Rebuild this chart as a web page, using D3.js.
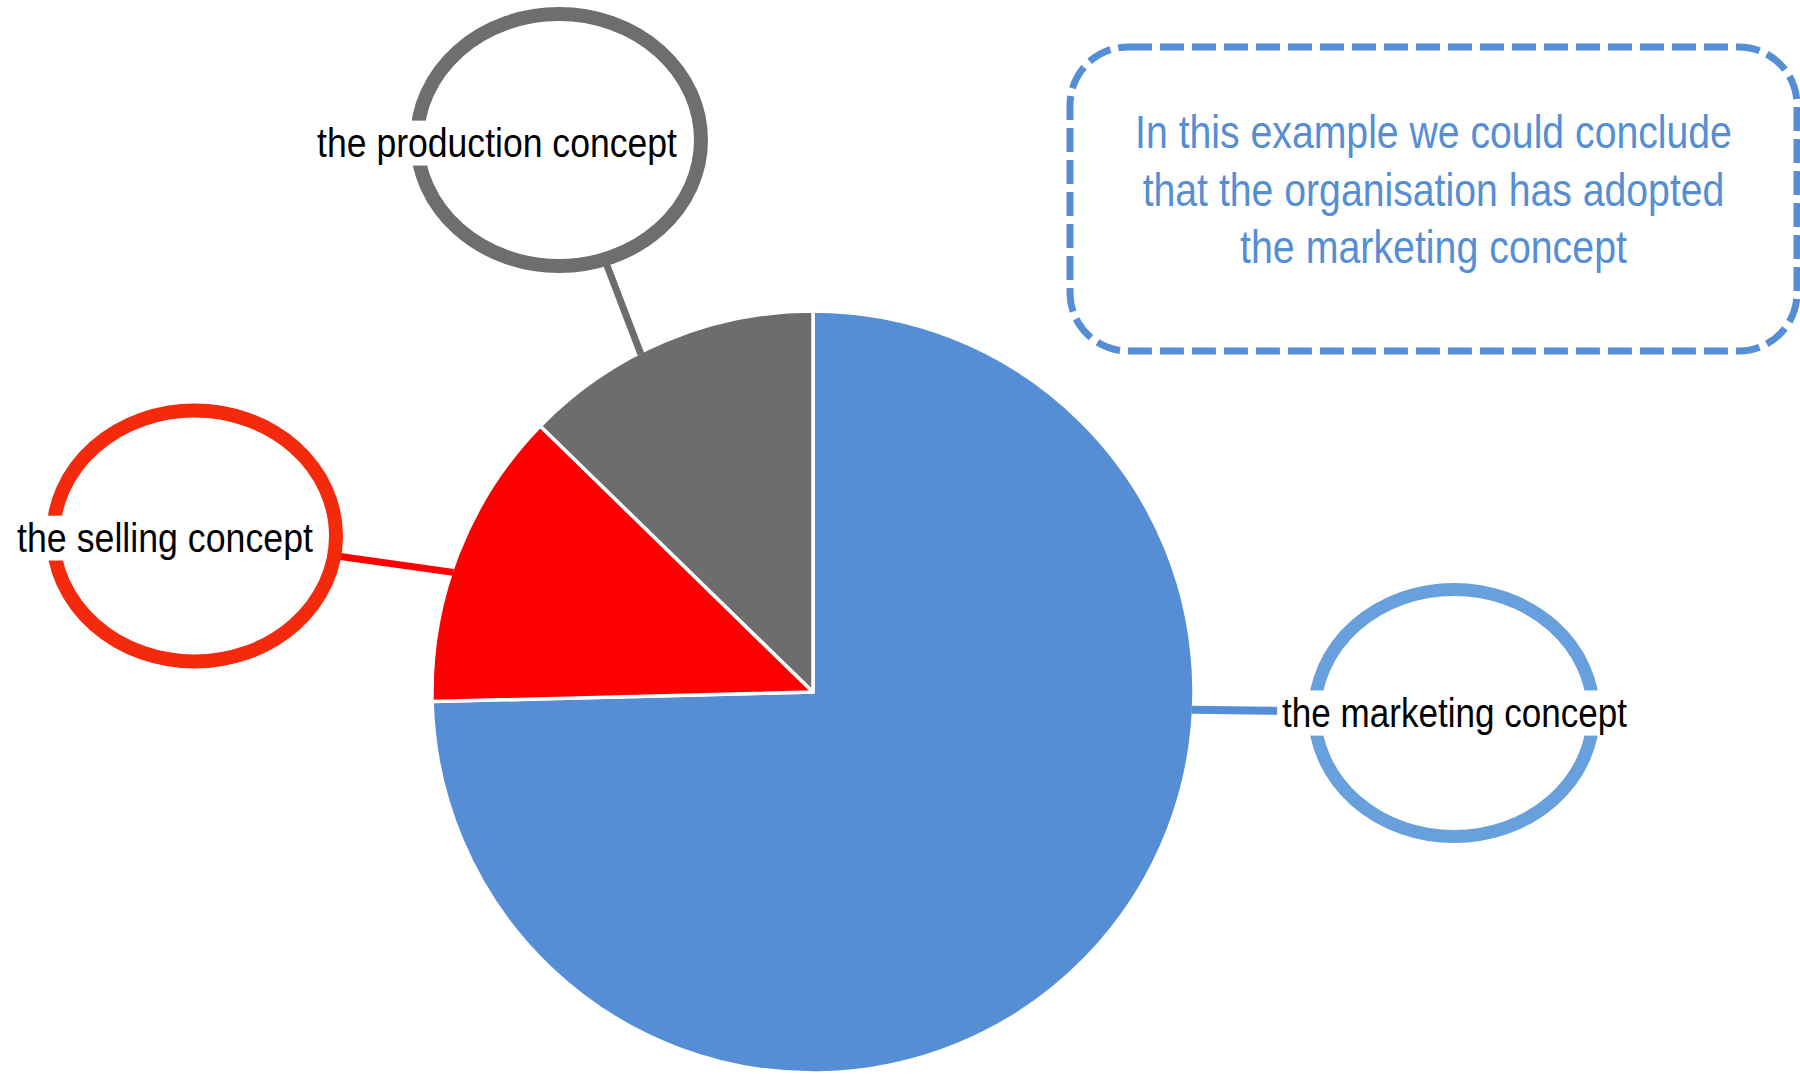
<!DOCTYPE html>
<html>
<head>
<meta charset="utf-8">
<script src="https://cdn.jsdelivr.net/npm/d3@7/dist/d3.min.js"></script>
<style>
  body { margin: 0; background: #fff; }
  svg { display: block; }
</style>
</head>
<body>
<svg></svg>
<script>
// data (shares in %)
var categories = ["the marketing concept", "the selling concept", "the production concept"]
var shares = [74.6, 12.7, 12.7]
var noteLines = ["In this example we could conclude",
                 "that the organisation has adopted",
                 "the marketing concept"]

var sliceColors = ["#558ED5", "#FF0000", "#6D6D6D"]
var ringColors = ["#67A0DC", "#F5290C", "#6E6E6E"]
var lineColors = ["#558ED5", "#FF0000", "#6D6D6D"]

var width = 1800
var height = 1074
var cx = 813, cy = 692, radius = 381

// callout bubbles (position / size only); rim = angle (deg) where the connector leaves the pie
var bubbles = [
    {x: 1454, y: 713, rx: 139.5, ry: 123.5, sw: 13, tx: 1454.5, ty: 727, len: 345, lw: 8, rim: 92.7},
    {x: 194.5, y: 536, rx: 141.5, ry: 125.5, sw: 14, tx: 165, ty: 552, len: 296, lw: 7, rim: 288.4},
    {x: 559, y: 140, rx: 142, ry: 126, sw: 14, tx: 497, ty: 157, len: 360, lw: 7, rim: 333}
]
var noteLens = [597, 582, 387]

var font = "'Liberation Sans Narrow', 'Liberation Sans', Arial, sans-serif"

var svg = d3.select("svg")
    .attr("width", width)
    .attr("height", height)

var slices = categories.map(function(c, i) {
    return {name: c, value: shares[i], i: i}
})

var pie = d3.pie()
    .sort(null)
    .value(function(d) { return d.value })

var arc = d3.arc()
    .innerRadius(0)
    .outerRadius(radius)

var g = svg.append("g")
    .attr("transform", "translate(" + cx + "," + cy + ")")

g.selectAll("path")
    .data(pie(slices))
    .enter().append("path")
    .attr("d", arc)
    .attr("fill", function(d) { return sliceColors[d.data.i] })
    .attr("stroke", "#fff")
    .attr("stroke-width", 3.5)
    .attr("stroke-linejoin", "round")

// connectors: from the pie rim to the bubble centre (bubble covers the rest)
var links = svg.append("g").attr("class", "links")
bubbles.forEach(function(b, i) {
    var p = d3.pointRadial(b.rim * Math.PI / 180, radius - 2)
    links.append("line")
        .attr("x1", cx + p[0])
        .attr("y1", cy + p[1])
        .attr("x2", b.x)
        .attr("y2", b.y)
        .attr("stroke", lineColors[i])
        .attr("stroke-width", b.lw)
})

var labels = svg.append("g").attr("class", "labels")
    .selectAll("g")
    .data(bubbles)
    .enter().append("g")

labels.append("ellipse")
    .attr("cx", function(d) { return d.x })
    .attr("cy", function(d) { return d.y })
    .attr("rx", function(d) { return d.rx })
    .attr("ry", function(d) { return d.ry })
    .attr("fill", "#fff")
    .attr("stroke", function(d, i) { return ringColors[i] })
    .attr("stroke-width", function(d) { return d.sw })

// squeeze a text horizontally to the width measured on the picture
function fitText(sel, target) {
    sel.each(function(d, i) {
        var node = this
        var w = node.getComputedTextLength()
        var s = target(d, i) / w
        var par = d3.select(node.parentNode)
        par.attr("transform", par.attr("transform") + " scale(" + s + ",1)")
        node.__scale = s
    })
}

var lab = labels.append("g")
    .attr("transform", function(d) { return "translate(" + d.tx + "," + d.ty + ")" })

var bg = lab.append("rect").attr("fill", "#fff")

var txt = lab.append("text")
    .attr("text-anchor", "middle")
    .style("font-family", font)
    .style("font-size", "41px")
    .style("fill", "#000")
    .text(function(d, i) { return categories[i] })

fitText(txt, function(d) { return d.len })

txt.each(function(d, i) {
    var bb = this.getBBox()
    var pad = 5 / this.__scale
    d3.select(bg.nodes()[i])
        .attr("x", bb.x - pad)
        .attr("y", bb.y + 1)
        .attr("width", bb.width + 2 * pad)
        .attr("height", bb.height - 1)
})

// note box
var note = svg.append("g").attr("class", "note")
note.append("rect")
    .attr("x", 1070)
    .attr("y", 47)
    .attr("width", 727)
    .attr("height", 304)
    .attr("rx", 58)
    .attr("ry", 58)
    .attr("fill", "none")
    .attr("stroke", "#558ED5")
    .attr("stroke-width", 7)
    .attr("stroke-dasharray", "24,8")

var noteText = note.selectAll("g.line")
    .data(noteLines)
    .enter().append("g")
    .attr("class", "line")
    .attr("transform", function(d, i) { return "translate(1433.5," + (148 + i * 57.5) + ")" })
    .append("text")
    .attr("text-anchor", "middle")
    .style("font-family", font)
    .style("font-size", "46px")
    .style("fill", "#558ED5")
    .text(function(d) { return d })

fitText(noteText, function(d, i) { return noteLens[i] })
</script>
</body>
</html>
